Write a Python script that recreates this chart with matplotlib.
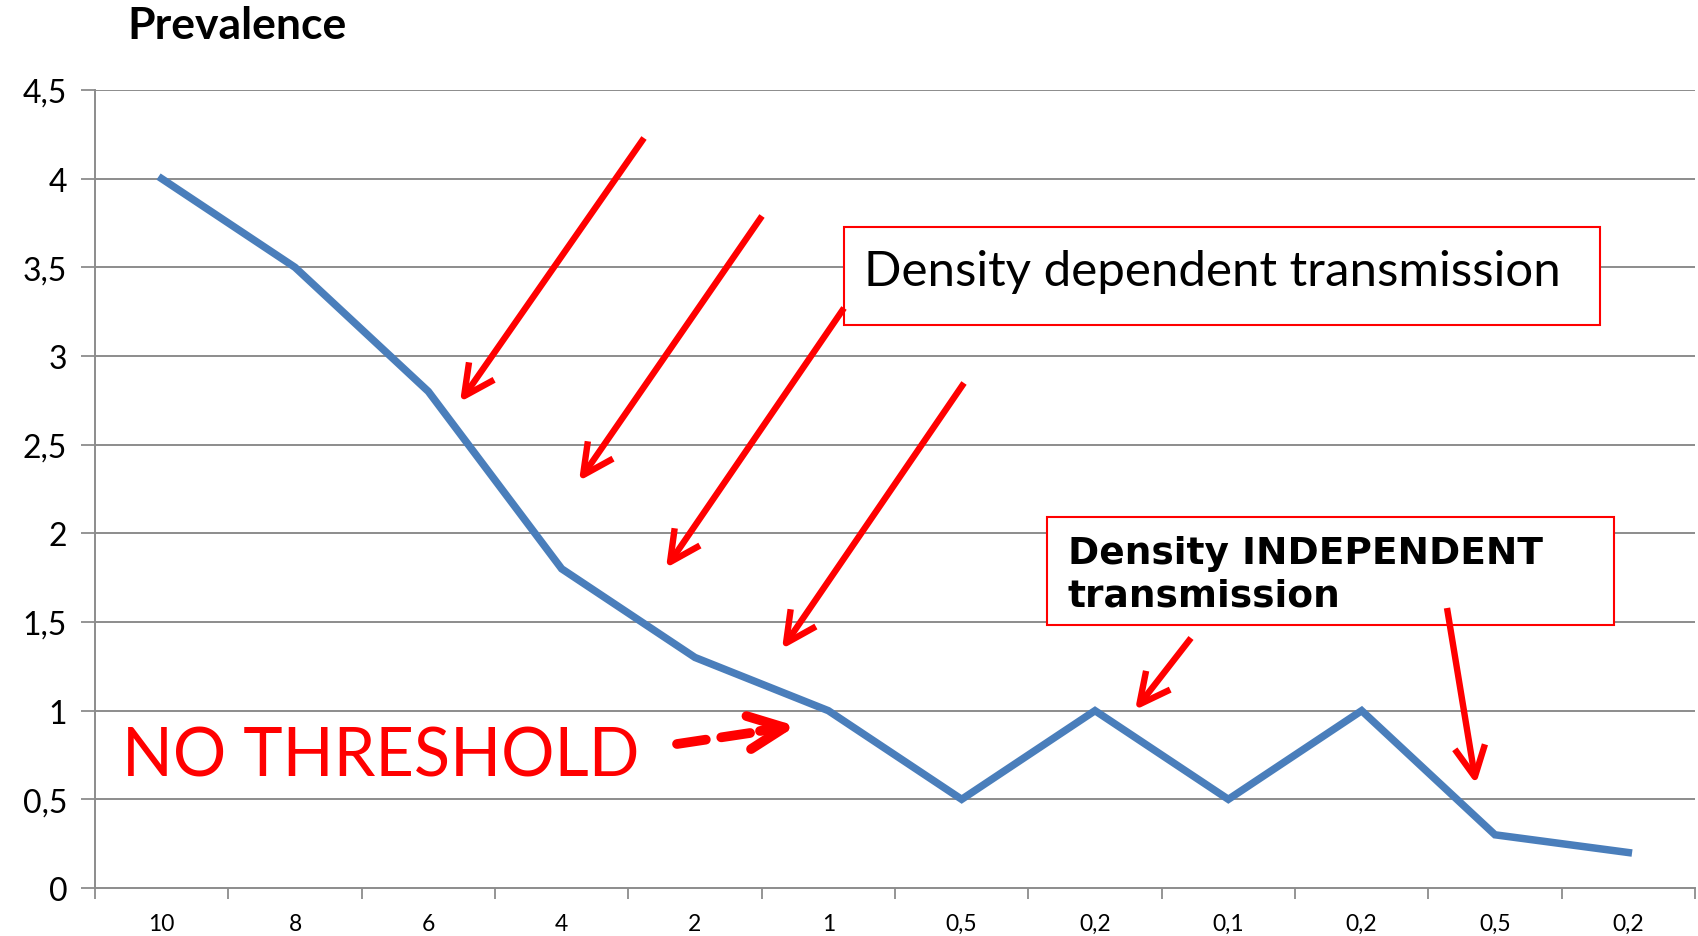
import matplotlib
matplotlib.use("Agg")
import matplotlib.pyplot as plt
from matplotlib.patches import Rectangle

# ---- data ----
categories = ["10", "8", "6", "4", "2", "1", "0,5", "0,2", "0,1", "0,2", "0,5", "0,2"]
prevalence = [4.0, 3.5, 2.8, 1.8, 1.3, 1.0, 0.5, 1.0, 0.5, 1.0, 0.3, 0.2]
yticks = [0, 0.5, 1, 1.5, 2, 2.5, 3, 3.5, 4, 4.5]
ytick_labels = ["0", "0,5", "1", "1,5", "2", "2,5", "3", "3,5", "4", "4,5"]

W, H = 1698, 937
fig = plt.figure(figsize=(W / 100, H / 100), dpi=100)
ax = fig.add_axes([95 / W, 1 - 889 / H, 1600 / W, 798 / H])

x = list(range(len(categories)))
ax.plot(x, prevalence, color="#4A7EBB", lw=5.4, solid_joinstyle="miter", zorder=3)

ax.set_xlim(-0.5, len(categories) - 0.5)
ax.set_ylim(0, 4.5)
ax.set_yticks(yticks)
ax.set_yticklabels(ytick_labels, fontsize=23, family="Lato")
ax.set_xticks(x)
ax.set_xticklabels(categories, fontsize=16.5, family="Lato")
ax.set_xticks([i - 0.5 for i in range(len(categories) + 1)], minor=True)
ax.tick_params(axis="x", which="major", length=0, pad=18)
ax.tick_params(axis="x", which="minor", length=8, width=1.3, color="#8c8c8c", direction="out")
ax.tick_params(axis="y", length=10, width=1.3, color="#8c8c8c", pad=10)

grid_c = "#8c8c8c"
for yv in yticks[1:]:
    ax.axhline(yv, color=grid_c, lw=1.4, zorder=1)
for s in ["top", "right"]:
    ax.spines[s].set_visible(False)
ax.spines["left"].set_color(grid_c)
ax.spines["left"].set_linewidth(1.4)
ax.spines["bottom"].set_color(grid_c)
ax.spines["bottom"].set_linewidth(1.4)

fig.text(127 / W, 1 - 26 / H, "Prevalence", fontsize=32, fontweight="bold",
         family="Lato", va="center", ha="left")


def P(px, py):
    return (px, H - py)


red = "#FF0000"

# boxes
box1 = Rectangle(P(844, 326), 1600 - 844, 326 - 228, transform=None,
                 facecolor="white", edgecolor=red, lw=1.5, zorder=5)
fig.patches.append(box1)
fig.text(864 / W, 1 - 272 / H, "Density dependent transmission", fontsize=35.5,
         family="Lato", va="center", ha="left", zorder=6)

box2 = Rectangle(P(1047, 626), 1614 - 1047, 626 - 518, transform=None,
                 facecolor="white", edgecolor=red, lw=1.5, zorder=5)
fig.patches.append(box2)
fig.text(1068 / W, 1 - 575 / H, "Density INDEPENDENT\ntransmission", fontsize=27,
         fontweight="bold", family="DejaVu Sans", va="center", ha="left",
         linespacing=1.22, zorder=6)

fig.text(122 / W, 1 - 758 / H, "NO THRESHOLD", fontsize=48, color=red,
         family="Lato", va="center", ha="left")

arrows = [
    ((644, 139), (460, 403)),
    ((762, 217), (579, 482)),
    ((844, 309), (666, 569)),
    ((964, 384), (782, 650)),
    ((1191, 639), (1135, 711)),
    ((1447, 609), (1476, 785)),
]
for tail, head in arrows:
    fig.add_artist(matplotlib.patches.FancyArrowPatch(
        P(*tail), P(*head), transform=None,
        arrowstyle="->,head_length=22,head_width=11", color=red, lw=4.6,
        shrinkA=0, shrinkB=0, joinstyle="round", capstyle="butt", zorder=7))

# dashed arrow
fig.add_artist(matplotlib.patches.FancyArrowPatch(
    P(677, 745), P(770, 731), transform=None, arrowstyle="-", color=red, lw=7,
    linestyle=(0, (3, 1.6)), shrinkA=0, shrinkB=0, zorder=7))
fig.add_artist(matplotlib.patches.FancyArrowPatch(
    P(760, 732), P(796, 727), transform=None,
    arrowstyle="->,head_length=26,head_width=12", color=red, lw=7,
    shrinkA=0, shrinkB=0, joinstyle="round", capstyle="round", zorder=7))

fig.savefig("out.png", dpi=100)
